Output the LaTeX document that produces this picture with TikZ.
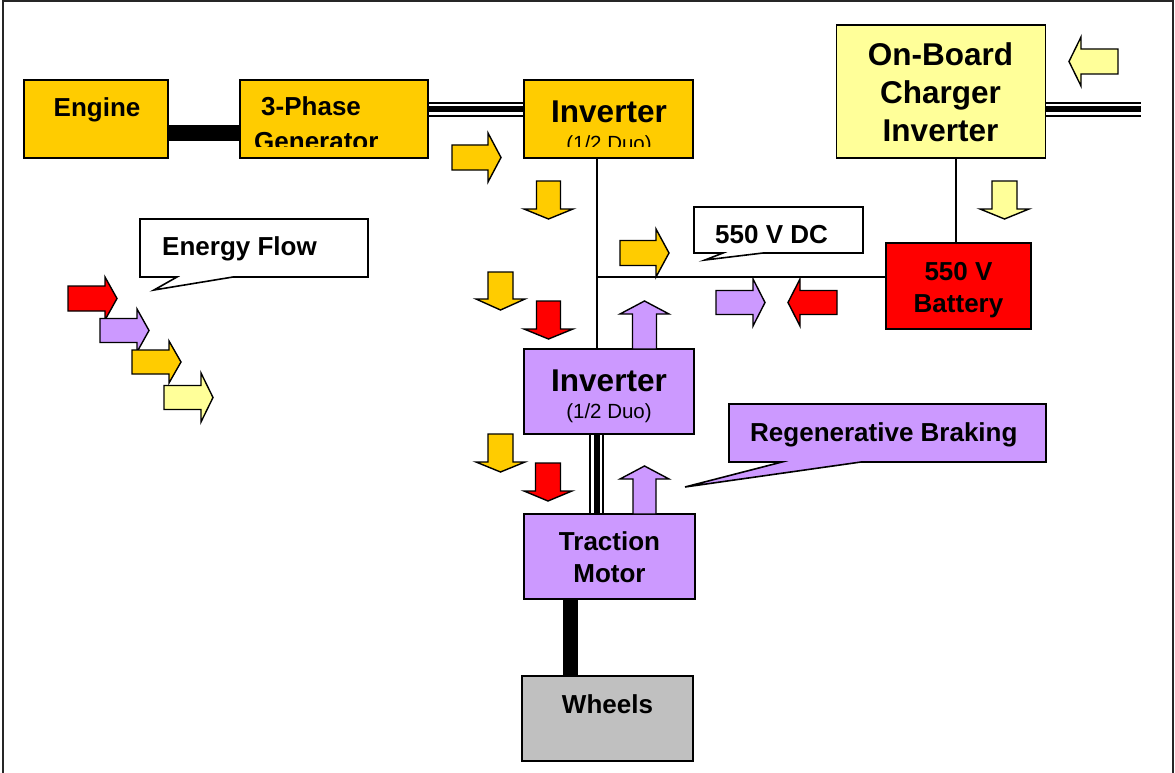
\documentclass[tikz,border=0pt]{standalone}
\usepackage{fontspec}
\setmainfont{Liberation Sans}
\usetikzlibrary{calc}
\pgfdeclarelayer{background}
\pgfsetlayers{background,main}
\definecolor{gold}{HTML}{FFCC00}
\definecolor{paleyel}{HTML}{FFFF99}
\definecolor{lilac}{HTML}{CC99FF}
\definecolor{wheelgray}{HTML}{C0C0C0}
\tikzset{
  box/.style={draw=black, line width=1.6pt, inner sep=0pt, outer sep=0pt, anchor=north west},
  lbl/.style={inner sep=0pt, anchor=base, font=\bfseries\fontsize{26}{30}\selectfont},
  big/.style={inner sep=0pt, anchor=base, font=\bfseries\fontsize{31.5}{36}\selectfont},
  small/.style={inner sep=0pt, anchor=base, font=\fontsize{20.5}{24}\selectfont},
  thinline/.style={line width=1.6pt},
  shaftline/.style={line width=16pt},
  blk/.style={draw=black, line width=1.4pt, line join=miter},
  callout/.style={draw=black, line width=1.6pt, line join=miter},
}
\newcommand\blockarrow[8]{%
  \draw[blk, fill=#8, shift={(#1,#2)}, rotate=#3]
    (-#4/2,-#6/2) -- (#4/2-#7,-#6/2) -- (#4/2-#7,-#5/2) -- (#4/2,0)
    -- (#4/2-#7,#5/2) -- (#4/2-#7,#6/2) -- (-#4/2,#6/2) -- cycle;}
\newcommand\tripleline[2]{%
  \draw[line width=15pt, black] #1 -- #2;
  \draw[line width=11pt, white] #1 -- #2;
  \draw[line width=6pt, black] #1 -- #2;}
\begin{document}
\begin{tikzpicture}[x=1pt, y=-1pt]
\useasboundingbox (0,0) rectangle (1175,773);
% outer frame
\draw[line width=2pt, black!85] (2.5,773) -- (2.5,1.5) -- (1172.5,1.5) -- (1172.5,773);

% boxes
\node[box, fill=gold, minimum width=144pt, minimum height=78pt] (engine) at (24,80) {};
\node[box, fill=gold, minimum width=188pt, minimum height=78pt] (gen) at (240,80) {};
\node[box, fill=gold, minimum width=169pt, minimum height=78pt] (inv1) at (524,80) {};
\node[box, fill=paleyel, minimum width=209pt, minimum height=133pt] (charger) at (836.5,25) {};
\node[box, fill=red, minimum width=145pt, minimum height=86pt] (battery) at (886,243) {};
\node[box, fill=lilac, minimum width=170pt, minimum height=85pt] (inv2) at (524,349) {};
\node[box, fill=lilac, minimum width=171pt, minimum height=85pt] (motor) at (524,514) {};
\node[box, fill=wheelgray, minimum width=171pt, minimum height=85pt] (wheels) at (522,676) {};

% helper coordinates
\coordinate (junction) at (597,277);
\coordinate (cbx) at (956,0);
\coordinate (trix) at (596.5,0);
\coordinate (shx) at (570.5,0);
\coordinate (mains) at (1141,109.5);

% connectors (behind boxes)
\begin{pgfonlayer}{background}
\draw[shaftline] (engine.east |- 0,133) -- (gen.west |- 0,133);
\tripleline{(gen.east |- 0,109.5)}{(inv1.west |- 0,109.5)}
\tripleline{(charger.east |- mains)}{(mains)}
\draw[thinline] (inv1.south -| junction) -- (inv2.north -| junction);
\draw[thinline] (junction) -- (battery.west |- junction);
\draw[thinline] (charger.south -| cbx) -- (battery.north -| cbx);
\tripleline{(inv2.south -| trix)}{(motor.north -| trix)}
\draw[line width=15pt] (motor.south -| shx) -- (wheels.north -| shx);
\end{pgfonlayer}

% box texts
\node[lbl] (tEngine) at (97,117) {Engine};
\node[lbl, anchor=base west] (tPhase) at (261,116) {3-Phase};
\node[big] (tInv1) at (609,122.5) {Inverter};
\begin{scope}
  \clip (230,0) rectangle (700,147);
  \node[lbl, anchor=base west] (tGen) at (254,150) {Generator};
  \node[small] (tDuo1) at (609,150) {(1/2 Duo)};
\end{scope}
\node[big] (tOnb) at (940.5,66) {On-Board};
\node[big] (tChg) at (940.5,104) {Charger};
\node[big] (tInvc) at (940.5,142) {Inverter};
\node[lbl] (tBat1) at (958.5,280) {550 V};
\node[lbl] (tBat2) at (958.5,312) {Battery};
\node[big] (tInv2) at (609,391) {Inverter};
\node[small] (tDuo2) at (609,418) {(1/2 Duo)};
\node[lbl] (tTr) at (609.5,550) {Traction};
\node[lbl] (tMo) at (609.5,582) {Motor};
\node[lbl] (tWh) at (607.5,713) {Wheels};

% callouts
\draw[callout, fill=white] (140,219) -- (368,219) -- (368,277) -- (233,277) -- (154,290) -- (177,277) -- (140,277) -- cycle;
\node[lbl, anchor=base west] (tEF) at (162,255) {Energy Flow};
\draw[callout, fill=white] (694,207) -- (863,207) -- (863,253) -- (763,253) -- (705,260) -- (723,253) -- (694,253) -- cycle;
\node[lbl, anchor=base west] (tDC) at (715,243) {550 V DC};
\draw[callout, fill=lilac] (729,404) -- (1046,404) -- (1046,462) -- (861,462) -- (685,487) -- (782,462) -- (729,462) -- cycle;
\node[lbl, anchor=base west] (tRB) at (750,441) {Regenerative Braking};

% block arrows
\blockarrow{476.5}{157.5}{0}{49}{49}{25}{13}{gold}
\blockarrow{1093.5}{61.5}{180}{49}{49}{25}{12}{paleyel}
\blockarrow{548.5}{200}{-90}{38}{49}{24}{10}{gold}
\blockarrow{1004.5}{200}{-90}{38}{49}{25}{10}{paleyel}
\blockarrow{644.5}{253}{0}{49}{48}{25}{13}{gold}
\blockarrow{500.5}{291}{-90}{38}{49}{25}{11}{gold}
\blockarrow{548.5}{320}{-90}{38}{49}{24}{10}{red}
\blockarrow{644.5}{325}{90}{48}{49}{24}{13}{lilac}
\blockarrow{740.5}{302.5}{0}{49}{47}{24}{12}{lilac}
\blockarrow{812.5}{302.5}{180}{49}{47}{24}{12}{red}
\blockarrow{500.5}{453}{-90}{38}{49}{25}{10}{gold}
\blockarrow{548}{482}{-90}{38}{48}{25}{10}{red}
\blockarrow{644.5}{490}{90}{48}{49}{23}{13}{lilac}
% legend arrows
\blockarrow{92.5}{298.5}{0}{49}{43}{25}{12}{red}
\blockarrow{124.5}{330.5}{0}{49}{43}{24}{12}{lilac}
\blockarrow{156.5}{362}{0}{49}{42}{24}{12}{gold}
\blockarrow{188.5}{397.5}{0}{49}{49}{24}{12}{paleyel}
\end{tikzpicture}
\end{document}
